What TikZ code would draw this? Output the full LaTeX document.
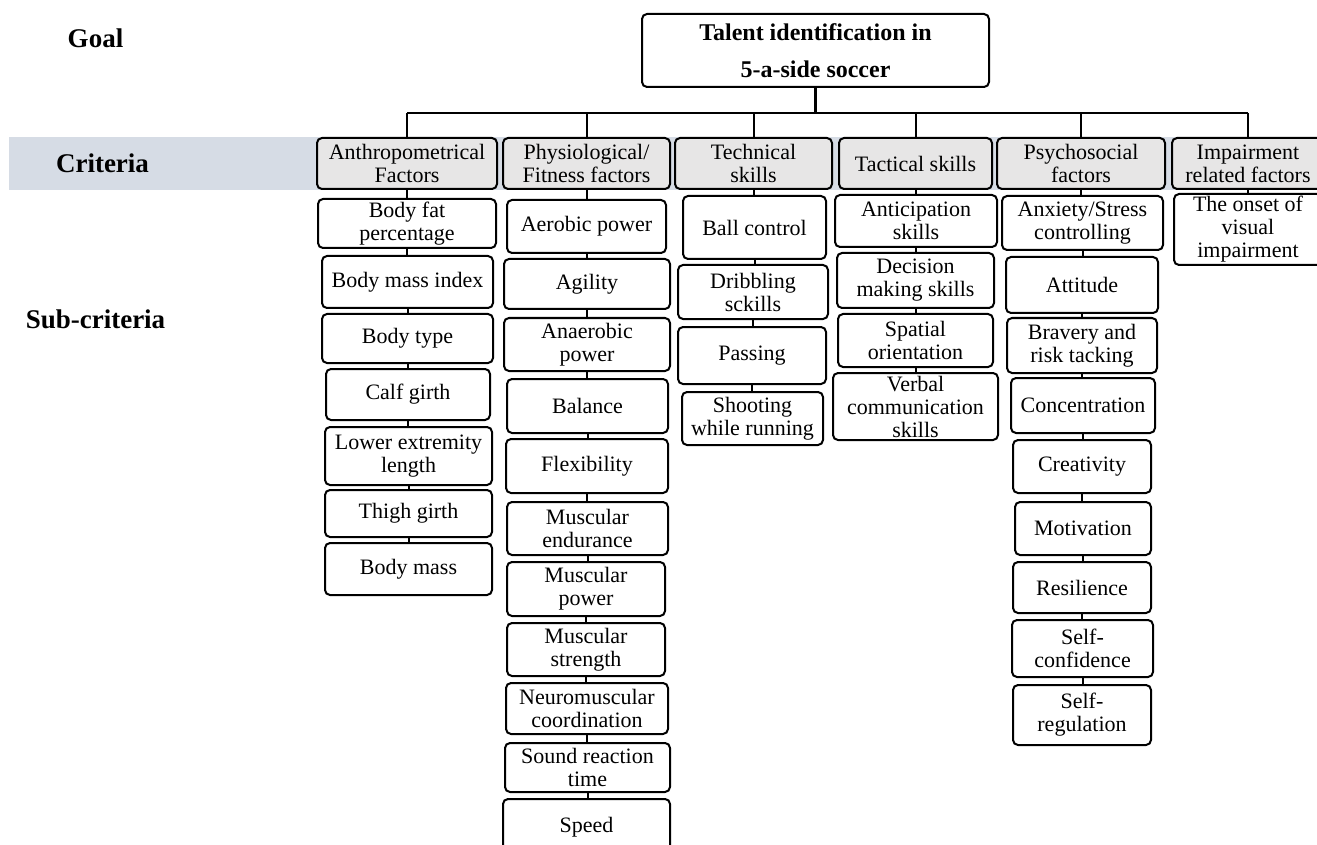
\documentclass[tikz,border=0pt]{standalone}
\usepackage{fontspec}
\setmainfont{Liberation Serif}
\usepackage{xcolor}
\usepackage{tikz}
\definecolor{bandblue}{RGB}{214,220,229}
\definecolor{critgray}{RGB}{231,230,230}
\usetikzlibrary{positioning,calc}

\begin{document}
\begin{tikzpicture}[
    x=0.5pt, y=-0.5pt,
    box/.style={rectangle, rounded corners=2.5pt, draw=black, line width=1pt, fill=white, align=center, inner sep=1pt, font=\fontsize{11}{11.5}\selectfont},
    crit/.style={box, fill=critgray},
    level/.style={font=\fontsize{13.5}{16}\selectfont\bfseries},
    link/.style={line width=1pt},
    sz/.style 2 args={minimum width=#1*0.5pt, minimum height=#2*0.5pt}
]

\useasboundingbox (0,0) rectangle (1317,845);
\clip (0,0) rectangle (1317,845);

% criteria band
\fill[bandblue] (9,137) rectangle (1317,190);

% level labels
\node[level] (goallbl) at (95.5,38) {Goal};
\node[level] (critlbl) at (102.5,163.5) {Criteria};
\node[level] (sublbl) at (95.5,319) {Sub-criteria};

% goal
\node[box, sz={347}{73}, font=\fontsize{12}{18.5}\selectfont\bfseries] (goal) at (815.5,50.5) {Talent identification in\\5-a-side soccer};

% criteria
\node[crit, sz={180}{51}] (anthro) at (407,163.5) {Anthropometrical\\Factors};
\node[crit, sz={167}{51}] (physio) at (586.5,163.5) {Physiological/\\Fitness factors};
\node[crit, sz={157}{51}] (tech) at (753.5,163.5) {Technical\\skills};
\node[crit, sz={153}{51}] (tact) at (915.5,163.5) {Tactical skills};
\node[crit, sz={168}{51}] (psycho) at (1081,163.5) {Psychosocial\\factors};
\node[crit, sz={152}{51}] (impair) at (1248,163.5) {Impairment\\related factors};

\coordinate (bus) at (815,113);
\draw[line width=1.5pt] (goal.south) -- (goal.south |- bus);
\draw[link] (anthro.north |- bus) -- (impair.north |- bus);
\draw[link] (anthro.north |- bus) -- (anthro.north);
\draw[link] (physio.north |- bus) -- (physio.north);
\draw[link] (tech.north |- bus) -- (tech.north);
\draw[link] (tact.north |- bus) -- (tact.north);
\draw[link] (psycho.north |- bus) -- (psycho.north);
\draw[link] (impair.north |- bus) -- (impair.north);

% anthropometrical sub-criteria
\node[box, sz={178}{49}] (bodyfat) at (407,223.5) {Body fat\\percentage};
\node[box, sz={171}{52}] (bmi) at (407.5,282) {Body mass index};
\node[box, sz={171}{49}] (bodytype) at (407.5,338.5) {Body type};
\node[box, sz={164}{51}] (calf) at (408,394.5) {Calf girth};
\node[box, sz={167}{58}] (lowerext) at (408.5,456) {Lower extremity\\length};
\node[box, sz={167}{47}] (thigh) at (408.5,513.5) {Thigh girth};
\node[box, sz={167}{52}] (bodymass) at (408.5,569) {Body mass};

% physiological sub-criteria
\node[box, sz={159}{53}] (aerobic) at (586.5,226.5) {Aerobic power};
\node[box, sz={166}{50}] (agility) at (587,284) {Agility};
\node[box, sz={166}{53}] (anaerobic) at (587,344.5) {Anaerobic\\power};
\node[box, sz={161}{54}] (balance) at (587.5,406) {Balance};
\node[box, sz={162}{54}] (flex) at (587,466) {Flexibility};
\node[box, sz={161}{53}] (endur) at (587.5,528.5) {Muscular\\endurance};
\node[box, sz={158}{54}] (mpower) at (586,589) {Muscular\\power};
\node[box, sz={158}{53}] (strength) at (586,649.5) {Muscular\\strength};
\node[box, sz={162}{51}] (neuro) at (587,708.5) {Neuromuscular\\coordination};
\node[box, sz={165}{49}] (sound) at (587.5,767.5) {Sound reaction\\time};
\node[box, sz={167}{56}] (speed) at (586.5,827) {Speed};

% technical sub-criteria
\node[box, sz={143}{63}] (ball) at (754.5,227.5) {Ball control};
\node[box, sz={150}{54}] (dribble) at (753,292) {Dribbling\\sckills};
\node[box, sz={148}{57}] (passing) at (752,355.5) {Passing};
\node[box, sz={141}{53}] (shooting) at (752.5,418.5) {Shooting\\while running};

% tactical sub-criteria
\node[box, sz={162}{52}] (anticip) at (916,221) {Anticipation\\skills};
\node[box, sz={157}{55}] (decision) at (915.5,280.5) {Decision\\making skills};
\node[box, sz={155}{53}] (spatial) at (915.5,340.5) {Spatial\\orientation};
\node[box, sz={165}{67}] (verbal) at (915.5,406.5) {Verbal\\communication\\skills};

% psychosocial sub-criteria
\node[box, sz={161}{54}] (anxiety) at (1082.5,223) {Anxiety/Stress\\controlling};
\node[box, sz={152}{56}] (attitude) at (1082,285) {Attitude};
\node[box, sz={150}{55}] (bravery) at (1082,345.5) {Bravery and\\risk tacking};
\node[box, sz={144}{55}] (concent) at (1083,405.5) {Concentration};
\node[box, sz={138}{53}] (creat) at (1082,466.5) {Creativity};
\node[box, sz={136}{53}] (motiv) at (1083,528.5) {Motivation};
\node[box, sz={138}{51}] (resil) at (1082,587.5) {Resilience};
\node[box, sz={141}{57}] (selfconf) at (1082.5,648.5) {Self-\\confidence};
\node[box, sz={138}{60}] (selfreg) at (1082,715) {Self-\\regulation};

% impairment sub-criteria
\node[box, sz={148}{71}] (onset) at (1248,229.5) {The onset of\\visual\\impairment};

% column links
\draw[link] (anthro.south) -- (anthro.south |- bodyfat.north);
\draw[link] (bodyfat.south) -- (bodyfat.south |- bmi.north);
\draw[link] (bmi.south) -- (bmi.south |- bodytype.north);
\draw[link] (bodytype.south) -- (bodytype.south |- calf.north);
\draw[link] (calf.south) -- (calf.south |- lowerext.north);
\draw[link] (lowerext.south) -- (lowerext.south |- thigh.north);
\draw[link] (thigh.south) -- (thigh.south |- bodymass.north);

\draw[link] (physio.south) -- (physio.south |- aerobic.north);
\draw[link] (aerobic.south) -- (aerobic.south |- agility.north);
\draw[link] (agility.south) -- (agility.south |- anaerobic.north);
\draw[link] (anaerobic.south) -- (anaerobic.south |- balance.north);
\draw[link] (balance.south) -- (balance.south |- flex.north);
\draw[link] (flex.south) -- (flex.south |- endur.north);
\draw[link] (endur.south) -- (endur.south |- mpower.north);
\draw[link] (mpower.south) -- (mpower.south |- strength.north);
\draw[link] (strength.south) -- (strength.south |- neuro.north);
\draw[link] (neuro.south) -- (neuro.south |- sound.north);
\draw[link] (sound.south) -- (sound.south |- speed.north);

\draw[link] (tech.south) -- (tech.south |- ball.north);
\draw[link] (ball.south) -- (ball.south |- dribble.north);
\draw[link] (dribble.south) -- (dribble.south |- passing.north);
\draw[link] (passing.south) -- (passing.south |- shooting.north);

\draw[link] (tact.south) -- (tact.south |- anticip.north);
\draw[link] (anticip.south) -- (anticip.south |- decision.north);
\draw[link] (decision.south) -- (decision.south |- spatial.north);
\draw[link] (spatial.south) -- (spatial.south |- verbal.north);

\draw[link] (psycho.south) -- (psycho.south |- anxiety.north);
\draw[link] (anxiety.south) -- (anxiety.south |- attitude.north);
\draw[link] (attitude.south) -- (attitude.south |- bravery.north);
\draw[link] (bravery.south) -- (bravery.south |- concent.north);
\draw[link] (concent.south) -- (concent.south |- creat.north);
\draw[link] (creat.south) -- (creat.south |- motiv.north);
\draw[link] (motiv.south) -- (motiv.south |- resil.north);
\draw[link] (resil.south) -- (resil.south |- selfconf.north);
\draw[link] (selfconf.south) -- (selfconf.south |- selfreg.north);

\draw[link] (impair.south) -- (impair.south |- onset.north);

\end{tikzpicture}
\end{document}
